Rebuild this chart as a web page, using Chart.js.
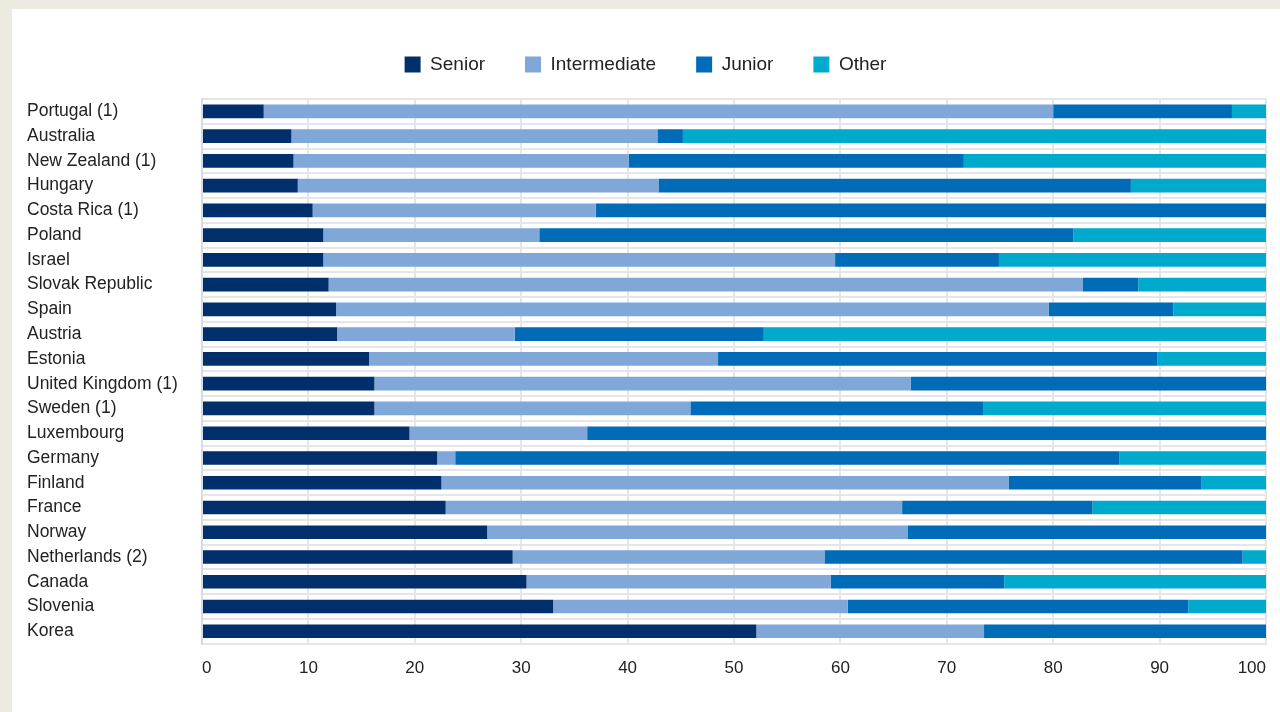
<!DOCTYPE html>
<html>
<head>
<meta charset="utf-8">
<script src="https://cdn.jsdelivr.net/npm/chart.js@4.4.1/dist/chart.umd.min.js"></script>
<style>
    html, body { margin: 0; padding: 0; background: #EDEBE1; }
    #panel { position: absolute; left: 12px; top: 9px; width: 1268px; height: 703px; background: #FFFFFF; }
</style>
</head>
<body>
<div id="panel"><canvas id="staffChart"></canvas></div>
<script>
const countries = [
    'Portugal (1)', 'Australia', 'New Zealand (1)', 'Hungary', 'Costa Rica (1)', 'Poland', 'Israel',
    'Slovak Republic', 'Spain', 'Austria', 'Estonia', 'United Kingdom (1)', 'Sweden (1)', 'Luxembourg',
    'Germany', 'Finland', 'France', 'Norway', 'Netherlands (2)', 'Canada', 'Slovenia', 'Korea'
];
const senior       = [5.8, 8.4, 8.6, 9.0, 10.4, 11.4, 11.4, 11.9, 12.6, 12.7, 15.7, 16.2, 16.2, 19.5, 22.1, 22.5, 22.9, 26.8, 29.2, 30.5, 33.0, 52.1];
const intermediate = [74.2, 34.4, 31.5, 33.9, 26.6, 20.3, 48.1, 70.9, 67.0, 16.7, 32.8, 50.4, 29.7, 16.7, 1.7, 53.3, 42.9, 39.5, 29.3, 28.6, 27.7, 21.4];
const junior       = [16.8, 2.4, 31.5, 44.4, 63.0, 50.2, 15.4, 5.2, 11.7, 23.4, 41.3, 33.4, 27.5, 63.8, 62.4, 18.1, 17.9, 33.7, 39.3, 16.3, 32.0, 26.5];
const other        = [3.2, 54.8, 28.4, 12.7, 0, 18.1, 25.1, 12.0, 8.7, 47.2, 10.2, 0, 26.6, 0, 13.8, 6.1, 16.3, 0, 2.2, 24.6, 7.3, 0];
const xTicks = [0, 10, 20, 30, 40, 50, 60, 70, 80, 90, 100];

const gridGray = '#E6E6E6';
const textColor = '#222222';

// room between legend and bars, and legend centred on the panel
const legendTweak = {
    id: 'legendTweak',
    afterInit(chart) {
        const fit = chart.legend.fit;
        chart.legend.fit = function () {
            fit.call(this);
            this.height += 15;
        };
    },
    afterLayout(chart) {
        chart.legend.right -= 16;
    }
};

const canvas = document.getElementById('staffChart');

new Chart(canvas, {
    type: 'bar',
    data: {
        labels: countries,
        datasets: [
            { label: 'Senior', data: senior, backgroundColor: '#002F6C' },
            { label: 'Intermediate', data: intermediate, backgroundColor: '#7FA8D9' },
            { label: 'Junior', data: junior, backgroundColor: '#006BB6' },
            { label: 'Other', data: other, backgroundColor: '#00AACC' }
        ]
    },
    plugins: [legendTweak],
    options: {
        indexAxis: 'y',
        responsive: true,
        maintainAspectRatio: false,
        animation: false,
        datasets: {
            bar: { categoryPercentage: 1, barPercentage: 0.55 }
        },
        layout: {
            padding: { left: 15, right: 0, top: 6, bottom: 18 }
        },
        plugins: {
            tooltip: { enabled: false },
            legend: {
                position: 'top',
                labels: {
                    boxWidth: 16,
                    boxHeight: 16,
                    padding: 40,
                    color: textColor,
                    font: { family: 'Arial, "Liberation Sans", sans-serif', size: 19 }
                }
            }
        },
        scales: {
            x: {
                stacked: true,
                min: 0,
                max: 100,
                afterBuildTicks: (scale) => {
                    scale.ticks = xTicks.map(v => ({ value: v }));
                },
                afterFit: (scale) => {
                    scale.paddingLeft = 0;
                    scale.paddingRight = 14;
                },
                grid: { color: gridGray, lineWidth: 2, drawTicks: false },
                border: { color: gridGray, width: 2 },
                ticks: {
                    align: 'inner',
                    padding: 15,
                    color: textColor,
                    font: { family: 'Arial, "Liberation Sans", sans-serif', size: 17 }
                }
            },
            y: {
                stacked: true,
                afterFit: (scale) => { scale.width = 175; },
                grid: { color: gridGray, lineWidth: 2, drawTicks: false },
                border: { color: '#D5DBE9', width: 2 },
                ticks: {
                    autoSkip: false,
                    crossAlign: 'far',
                    padding: 10,
                    color: textColor,
                    font: { family: 'Arial, "Liberation Sans", sans-serif', size: 17.5 }
                }
            }
        }
    }
});
</script>
</body>
</html>
